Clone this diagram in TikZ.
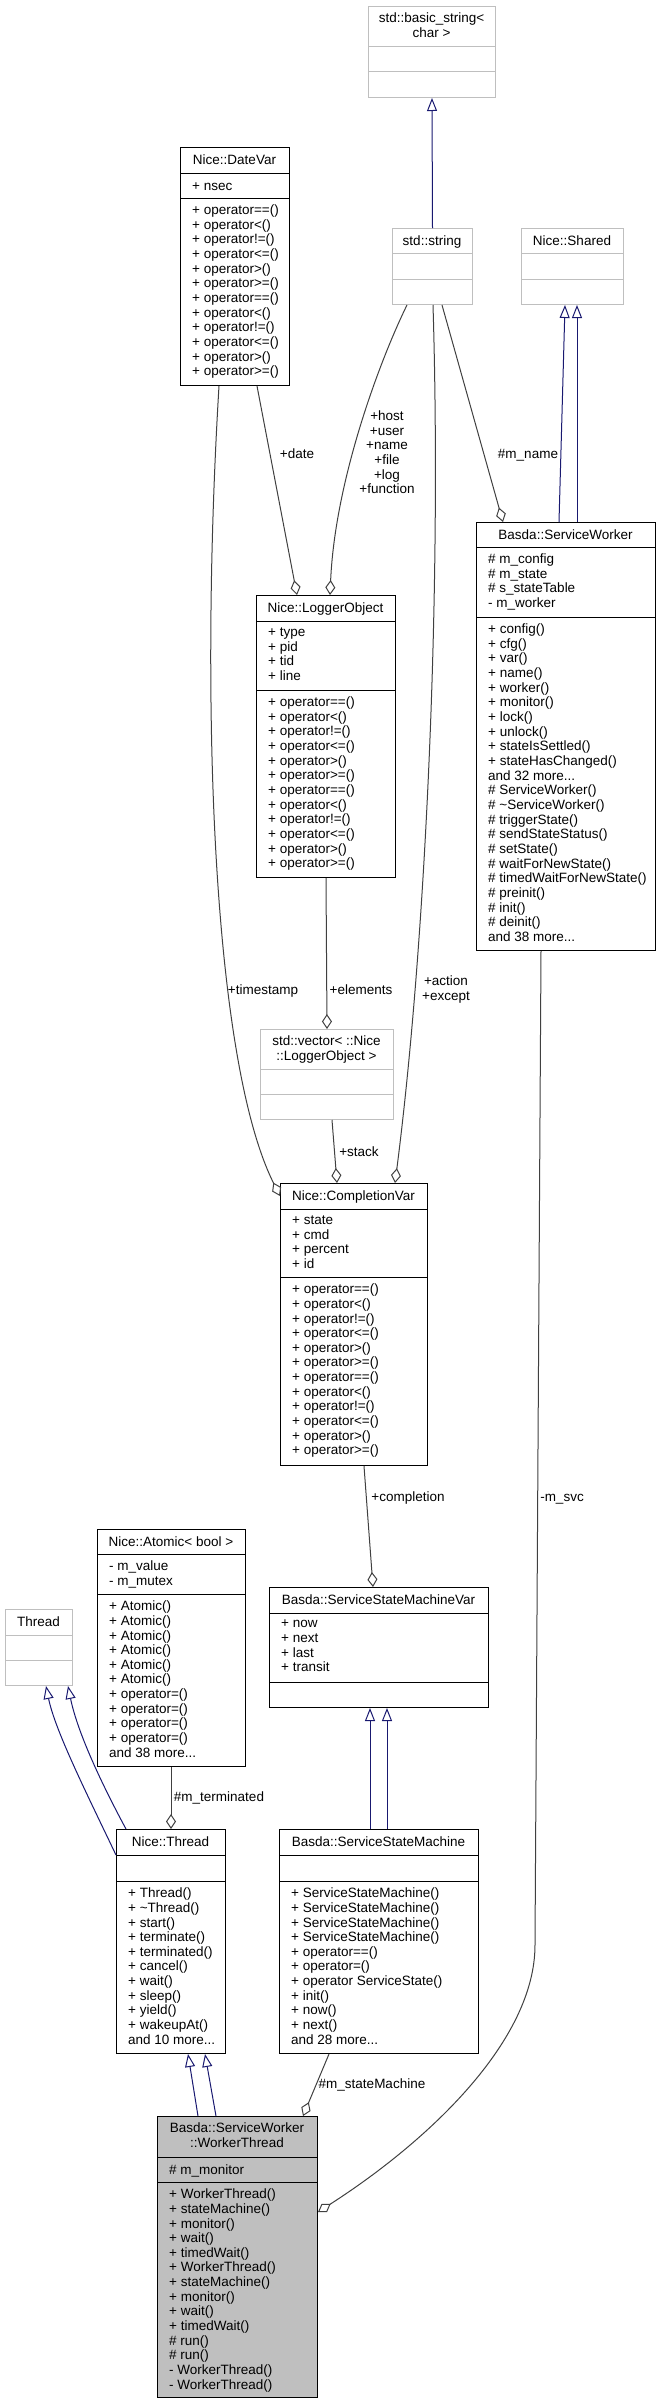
\documentclass[tikz,border=0pt]{standalone}
\usepackage{fontspec}
\setmainfont{Liberation Sans}
\usetikzlibrary{arrows.meta}
\definecolor{edgegray}{RGB}{64,64,64}
\definecolor{boxgray}{RGB}{191,191,191}
\definecolor{inhblue}{RGB}{25,25,112}
\newcommand{\dfont}{\fontsize{13.5}{14.65}\selectfont}

\begin{document}
\begin{tikzpicture}[x=1pt,y=-1pt,
  cls/.style={draw=black,line width=1pt,fill=white,inner sep=0pt,anchor=north west},
  ucls/.style={draw=boxgray,line width=1pt,fill=white,inner sep=0pt,anchor=north west},
  sepl/.style={line width=1pt},
  ttl/.style={inner sep=0pt,anchor=north,align=center,font=\dfont,execute at begin node=\strut},
  mem/.style={inner sep=0pt,anchor=north west,align=left,font=\dfont,execute at begin node=\strut},
  lbl/.style={inner sep=0pt,anchor=north,align=center,font=\dfont,execute at begin node=\strut},
  inh/.style={draw=inhblue,line width=1pt,-{Triangle[open,length=13pt,width=10pt]}},
  agg/.style={draw=edgegray,line width=1pt,-{Diamond[open,length=15pt,width=10pt]}}]
\useasboundingbox (0,0) rectangle (660,2404);

\node[ucls,minimum width=127pt,minimum height=91pt] (bstr) at (368,6) {};
\draw[sepl,boxgray] (368,46) -- (495,46) (368,71) -- (495,71);
\node[ttl] (bstr-t) at (431.5,12.7) {std::basic\_string<\\char >};

\node[cls,minimum width=109pt,minimum height=238pt] (datevar) at (180,147) {};
\draw[sepl] (180,173) -- (289,173) (180,198) -- (289,198);
\node[ttl] (datevar-t) at (234.5,153.7) {Nice::DateVar};
\node[mem] (datevar-a) at (192,179.7) {+ nsec};
\node[mem] (datevar-m) at (192,204.7) {+ operator==()\\+ operator<()\\+ operator!=()\\+ operator<=()\\+ operator>()\\+ operator>=()\\+ operator==()\\+ operator<()\\+ operator!=()\\+ operator<=()\\+ operator>()\\+ operator>=()};

\node[ucls,minimum width=80pt,minimum height=76pt] (strg) at (392,228) {};
\draw[sepl,boxgray] (392,253) -- (472,253) (392,279) -- (472,279);
\node[ttl] (strg-t) at (432,234.7) {std::string};

\node[ucls,minimum width=102pt,minimum height=76pt] (shared) at (521,228) {};
\draw[sepl,boxgray] (521,253) -- (623,253) (521,279) -- (623,279);
\node[ttl] (shared-t) at (572,234.7) {Nice::Shared};

\node[cls,minimum width=179pt,minimum height=428pt] (svcworker) at (476,522) {};
\draw[sepl] (476,547) -- (655,547) (476,617) -- (655,617);
\node[ttl] (svcworker-t) at (565.5,528.7) {Basda::ServiceWorker};
\node[mem] (svcworker-a) at (488,553.7) {\# m\_config\\\# m\_state\\\# s\_stateTable\\- m\_worker};
\node[mem] (svcworker-m) at (488,623.7) {+ config()\\+ cfg()\\+ var()\\+ name()\\+ worker()\\+ monitor()\\+ lock()\\+ unlock()\\+ stateIsSettled()\\+ stateHasChanged()\\and 32 more...\\\# ServiceWorker()\\\# \textasciitilde ServiceWorker()\\\# triggerState()\\\# sendStateStatus()\\\# setState()\\\# waitForNewState()\\\# timedWaitForNewState()\\\# preinit()\\\# init()\\\# deinit()\\and 38 more...};

\node[cls,minimum width=139pt,minimum height=282pt] (logobj) at (256,595) {};
\draw[sepl] (256,621) -- (395,621) (256,690) -- (395,690);
\node[ttl] (logobj-t) at (325.5,601.7) {Nice::LoggerObject};
\node[mem] (logobj-a) at (268,627.7) {+ type\\+ pid\\+ tid\\+ line};
\node[mem] (logobj-m) at (268,696.7) {+ operator==()\\+ operator<()\\+ operator!=()\\+ operator<=()\\+ operator>()\\+ operator>=()\\+ operator==()\\+ operator<()\\+ operator!=()\\+ operator<=()\\+ operator>()\\+ operator>=()};

\node[ucls,minimum width=133pt,minimum height=90pt] (vec) at (260,1029) {};
\draw[sepl,boxgray] (260,1069) -- (393,1069) (260,1094) -- (393,1094);
\node[ttl] (vec-t) at (326.5,1035.7) {std::vector< ::Nice\\::LoggerObject >};

\node[cls,minimum width=147pt,minimum height=282pt] (cvar) at (280,1183) {};
\draw[sepl] (280,1209) -- (427,1209) (280,1277) -- (427,1277);
\node[ttl] (cvar-t) at (353.5,1189.7) {Nice::CompletionVar};
\node[mem] (cvar-a) at (292,1215.7) {+ state\\+ cmd\\+ percent\\+ id};
\node[mem] (cvar-m) at (292,1283.7) {+ operator==()\\+ operator<()\\+ operator!=()\\+ operator<=()\\+ operator>()\\+ operator>=()\\+ operator==()\\+ operator<()\\+ operator!=()\\+ operator<=()\\+ operator>()\\+ operator>=()};

\node[cls,minimum width=148pt,minimum height=237pt] (atomic) at (97,1529) {};
\draw[sepl] (97,1554) -- (245,1554) (97,1594) -- (245,1594);
\node[ttl] (atomic-t) at (171,1535.7) {Nice::Atomic< bool >};
\node[mem] (atomic-a) at (109,1560.7) {- m\_value\\- m\_mutex};
\node[mem] (atomic-m) at (109,1600.7) {+ Atomic()\\+ Atomic()\\+ Atomic()\\+ Atomic()\\+ Atomic()\\+ Atomic()\\+ operator=()\\+ operator=()\\+ operator=()\\+ operator=()\\and 38 more...};

\node[ucls,minimum width=67pt,minimum height=76pt] (thr) at (5,1609) {};
\draw[sepl,boxgray] (5,1635) -- (72,1635) (5,1660) -- (72,1660);
\node[ttl] (thr-t) at (38.5,1615.7) {Thread};

\node[cls,minimum width=219pt,minimum height=120pt] (ssmvar) at (269,1587) {};
\draw[sepl] (269,1613) -- (488,1613) (269,1682) -- (488,1682);
\node[ttl] (ssmvar-t) at (378.5,1593.7) {Basda::ServiceStateMachineVar};
\node[mem] (ssmvar-a) at (281,1619.7) {+ now\\+ next\\+ last\\+ transit};

\node[cls,minimum width=109pt,minimum height=224pt] (nthread) at (116,1829) {};
\draw[sepl] (116,1855) -- (225,1855) (116,1881) -- (225,1881);
\node[ttl] (nthread-t) at (170.5,1835.7) {Nice::Thread};
\node[mem] (nthread-m) at (128,1887.7) {+ Thread()\\+ \textasciitilde Thread()\\+ start()\\+ terminate()\\+ terminated()\\+ cancel()\\+ wait()\\+ sleep()\\+ yield()\\+ wakeupAt()\\and 10 more...};

\node[cls,minimum width=199pt,minimum height=224pt] (ssm) at (279,1829) {};
\draw[sepl] (279,1855) -- (478,1855) (279,1881) -- (478,1881);
\node[ttl] (ssm-t) at (378.5,1835.7) {Basda::ServiceStateMachine};
\node[mem] (ssm-m) at (291,1887.7) {+ ServiceStateMachine()\\+ ServiceStateMachine()\\+ ServiceStateMachine()\\+ ServiceStateMachine()\\+ operator==()\\+ operator=()\\+ operator ServiceState()\\+ init()\\+ now()\\+ next()\\and 28 more...};

\node[cls,fill=boxgray,minimum width=160pt,minimum height=281pt] (wthread) at (157,2116) {};
\draw[sepl] (157,2157) -- (317,2157) (157,2182) -- (317,2182);
\node[ttl] (wthread-t) at (237,2122.7) {Basda::ServiceWorker\\::WorkerThread};
\node[mem] (wthread-a) at (169,2163.7) {\# m\_monitor};
\node[mem] (wthread-m) at (169,2188.7) {+ WorkerThread()\\+ stateMachine()\\+ monitor()\\+ wait()\\+ timedWait()\\+ WorkerThread()\\+ stateMachine()\\+ monitor()\\+ wait()\\+ timedWait()\\\# run()\\\# run()\\- WorkerThread()\\- WorkerThread()};

\draw[inh] (strg.north) -- (bstr.south);
\draw[inh] ([xshift=83pt]svcworker.north west) -- ([xshift=44pt]shared.south west);
\draw[inh] ([xshift=101pt]svcworker.north west) -- ([xshift=56pt]shared.south west);
\draw[inh] ([yshift=-26pt]nthread.north west) .. controls (85,1790) and (55,1730) .. ([xshift=41pt]thr.south west);
\draw[inh] ([xshift=10pt]nthread.north west) .. controls (105,1790) and (78,1735) .. ([xshift=63pt]thr.south west);
\draw[inh] ([xshift=91pt]ssm.north west) -- ([xshift=101pt]ssmvar.south west);
\draw[inh] ([xshift=108pt]ssm.north west) -- ([xshift=118pt]ssmvar.south west);
\draw[inh] ([xshift=41pt]wthread.north west) -- ([xshift=72pt]nthread.south west);
\draw[inh] ([xshift=59pt]wthread.north west) -- ([xshift=89pt]nthread.south west);

\draw[agg] ([xshift=77pt]datevar.south west) -- ([xshift=41pt]logobj.north west);
\draw[agg] ([xshift=15pt]strg.south west) .. controls (380,360) and (335,480) .. ([xshift=74pt]logobj.north west);
\draw[agg] ([xshift=50pt]strg.south west) -- ([xshift=27pt]svcworker.north west);
\draw[agg] ([xshift=39pt]datevar.south west) .. controls (200,700) and (212,1060) .. ([yshift=-13pt]cvar.north west);
\draw[agg] ([xshift=41pt]strg.south west) .. controls (442,600) and (425,950) .. ([xshift=115pt]cvar.north west);
\draw[agg] (logobj.south) -- (vec.north);
\draw[agg] ([xshift=72pt]vec.south west) -- ([xshift=57pt]cvar.north west);
\draw[agg] ([xshift=84pt]cvar.south west) -- ([xshift=104pt]ssmvar.north west);
\draw[agg] ([xshift=74pt]atomic.south west) -- ([xshift=55pt]nthread.north west);
\draw[agg] ([xshift=50pt]ssm.south west) -- ([xshift=146pt]wthread.north west);
\draw[agg] ([xshift=65pt]svcworker.south west) -- (535,1945) .. controls (535,2040) and (430,2140) .. ([yshift=-96pt]wthread.north east);

\node[lbl] (ldate) at (297,447.7) {+date};
\node[lbl] (lhost) at (387,410.7) {+host\\+user\\+name\\+file\\+log\\+function};
\node[lbl] (lmname) at (528,447.7) {\#m\_name};
\node[lbl] (ltime) at (263,983.7) {+timestamp};
\node[lbl] (lelem) at (361,983.7) {+elements};
\node[lbl] (lact) at (446,975.7) {+action\\+except};
\node[lbl] (lstack) at (359,1145.7) {+stack};
\node[lbl] (lcompl) at (408,1490.7) {+completion};
\node[lbl] (lsvc) at (562,1490.7) {-m\_svc};
\node[lbl] (lterm) at (219,1790.7) {\#m\_terminated};
\node[lbl] (lstm) at (372,2077.7) {\#m\_stateMachine};
\end{tikzpicture}
\end{document}
